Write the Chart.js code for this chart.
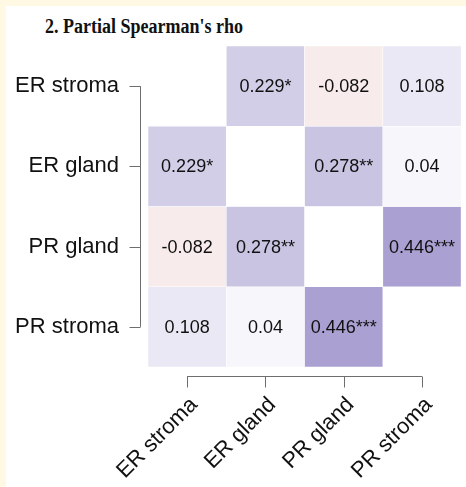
<!DOCTYPE html>
<html lang="en">
<head>
    <meta charset="UTF-8">
    <title>Partial Spearman's rho</title>
    <script src="https://cdn.jsdelivr.net/npm/chart.js"></script>
    <style>
        body {
            margin: 0;
            background: #fff9e4;
        }
        .frame {
            position: absolute;
            left: 6px;
            top: 6px;
            width: 460px;
            height: 481px;
            background: #fff;
        }
        .title {
            position: absolute;
            left: 45px;
            top: 16px;
            font: bold 20px "Liberation Serif", "Times New Roman", serif;
            line-height: 1;
            color: #111;
            transform: scaleX(0.9);
            transform-origin: left top;
            white-space: nowrap;
        }
        .chart-box {
            position: absolute;
            left: 0;
            top: 0;
            width: 466px;
            height: 487px;
        }
    </style>
</head>
<body>
    <div class="frame"></div>
    <div class="title">2. Partial Spearman's rho</div>
    <div class="chart-box">
        <canvas id="rhoChart"></canvas>
    </div>

    <script>
        const variables = ['ER stroma', 'ER gland', 'PR gland', 'PR stroma'];

        // rows top to bottom, null on the diagonal
        const erStroma = [null, 0.229, -0.082, 0.108];
        const erGland = [0.229, null, 0.278, 0.04];
        const prGland = [-0.082, 0.278, null, 0.446];
        const prStroma = [0.108, 0.04, 0.446, null];

        const erStromaStars = ['', '*', '', ''];
        const erGlandStars = ['*', '', '**', ''];
        const prGlandStars = ['', '**', '', '***'];
        const prStromaStars = ['', '', '***', ''];

        const rows = [erStroma, erGland, prGland, prStroma];
        const stars = [erStromaStars, erGlandStars, prGlandStars, prStromaStars];

        // white -> purple for positive, white -> red for negative
        function cellColor(v) {
            if (v === null) return 'rgba(0,0,0,0)';
            const hi = v >= 0 ? [65, 42, 154] : [157, 11, 11];
            const t = Math.min(Math.abs(v), 1);
            const c = hi.map(h => Math.round(255 + (h - 255) * t));
            return `rgb(${c[0]},${c[1]},${c[2]})`;
        }

        const datasets = rows.map((vals, r) => ({
            label: variables[r],
            data: vals.map(v => v === null ? null : [r - 0.5, r + 0.5]),
            backgroundColor: vals.map(cellColor),
            borderColor: 'rgba(255,255,255,0.7)',
            borderWidth: 0.6,
            borderSkipped: false,
            grouped: false,
            barPercentage: 1,
            categoryPercentage: 1
        }));

        const axisColor = '#6e6e6e';

        const cellText = {
            id: 'cellText',
            afterDatasetsDraw(chart) {
                const ctx = chart.ctx;
                const x = chart.scales.x;
                const y = chart.scales.y;
                const area = chart.chartArea;
                ctx.save();

                // values in each cell
                ctx.fillStyle = '#111';
                ctx.font = '18px "Liberation Sans", Arial, sans-serif';
                ctx.textAlign = 'center';
                ctx.textBaseline = 'middle';
                rows.forEach((vals, r) => {
                    vals.forEach((v, c) => {
                        if (v === null) return;
                        ctx.fillText(String(v) + stars[r][c], x.getPixelForValue(c), y.getPixelForValue(r) + 1);
                    });
                });

                // R style axes: line spans first to last tick only
                ctx.strokeStyle = axisColor;
                ctx.lineWidth = 1;
                const ax = Math.round(area.left - 8) + 0.5;
                const y0 = y.getPixelForValue(0);
                const y3 = y.getPixelForValue(variables.length - 1);
                ctx.beginPath();
                ctx.moveTo(ax, y0);
                ctx.lineTo(ax, y3);
                variables.forEach((_, i) => {
                    const py = Math.round(y.getPixelForValue(i)) + 0.5;
                    ctx.moveTo(ax, py);
                    ctx.lineTo(ax - 11, py);
                });
                const ay = Math.round(area.bottom + 9) + 0.5;
                const x0 = x.getPixelForValue(0);
                const x3 = x.getPixelForValue(variables.length - 1);
                ctx.moveTo(x0, ay);
                ctx.lineTo(x3, ay);
                variables.forEach((_, i) => {
                    const px = Math.round(x.getPixelForValue(i)) + 0.5;
                    ctx.moveTo(px, ay);
                    ctx.lineTo(px, ay + 11);
                });
                ctx.stroke();
                ctx.restore();
            }
        };

        const labelFont = { family: '"Liberation Sans", Arial, sans-serif', size: 22 };

        new Chart(document.getElementById('rhoChart'), {
            type: 'bar',
            data: { labels: variables, datasets: datasets },
            plugins: [cellText],
            options: {
                responsive: true,
                maintainAspectRatio: false,
                animation: false,
                events: [],
                layout: { padding: { top: 46, right: 3, left: 0, bottom: 0 } },
                plugins: {
                    legend: { display: false },
                    tooltip: { enabled: false }
                },
                scales: {
                    x: {
                        type: 'category',
                        grid: { display: false, drawTicks: false },
                        border: { display: false },
                        ticks: {
                            color: '#111',
                            font: labelFont,
                            minRotation: 45,
                            maxRotation: 45,
                            padding: 25,
                            labelOffset: 7,
                            autoSkip: false
                        },
                        afterFit(scale) { scale.height = 120; }
                    },
                    y: {
                        type: 'linear',
                        reverse: true,
                        min: -0.5,
                        max: 3.5,
                        grid: { display: false, drawTicks: false },
                        border: { display: false },
                        afterBuildTicks(scale) {
                            scale.ticks = variables.map((_, i) => ({ value: i }));
                        },
                        ticks: {
                            color: '#111',
                            font: labelFont,
                            padding: 29,
                            callback: v => variables[v]
                        },
                        afterFit(scale) { scale.width = 148; }
                    }
                }
            }
        });
    </script>
</body>
</html>
